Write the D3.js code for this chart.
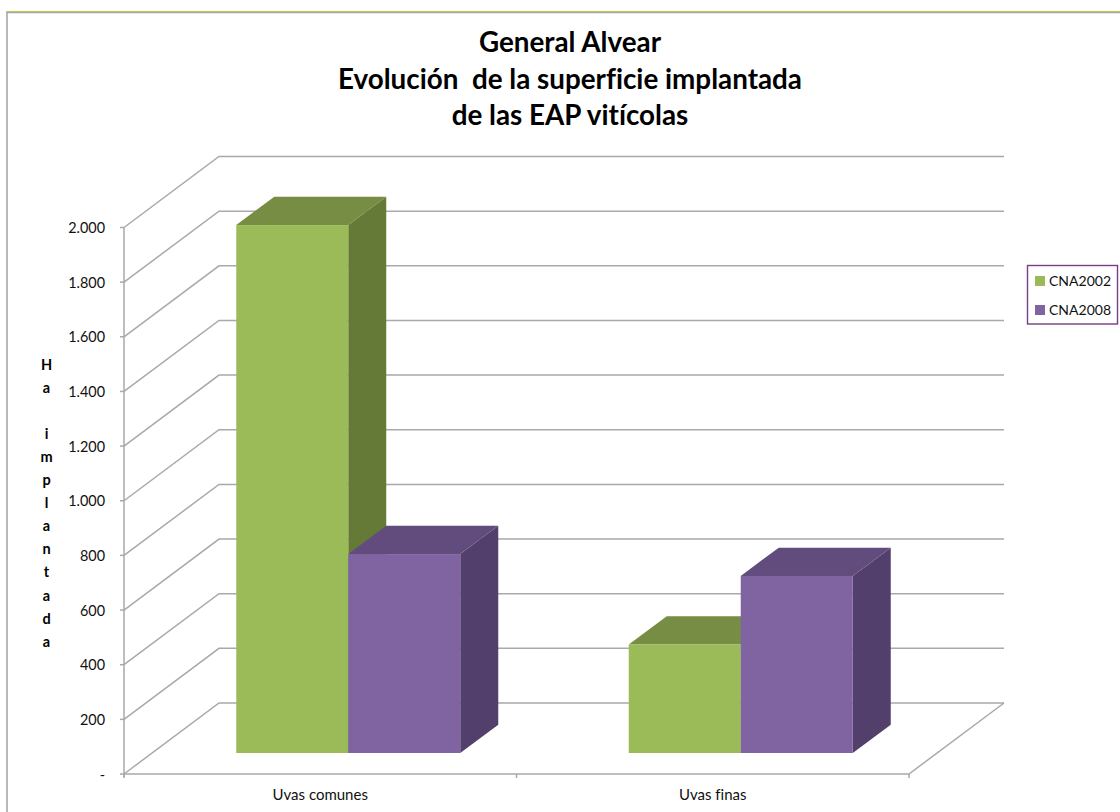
<!DOCTYPE html>
<html><head><meta charset="utf-8">
<style>html,body{margin:0;padding:0;background:#fff}svg{display:block}text{font-family:Lato,"Open Sans",sans-serif;font-variant-ligatures:none}</style>
<script src="https://cdn.jsdelivr.net/npm/d3@7"></script></head><body>
<script>
const titleLines = ["General Alvear","Evolución  de la superficie implantada","de las EAP vitícolas"];
const categories = ["Uvas comunes","Uvas finas"];
const seriesNames = ["CNA2002","CNA2008"];
const cna2002 = [1932,397];
const cna2008 = [728,648];
const yTicks = [0,200,400,600,800,1000,1200,1400,1600,1800,2000];
const yTitle = ["H","a","","i","m","p","l","a","n","t","a","d","a"];
const colors = {CNA2002:["#9bbb59","#778d43","#657a37"],CNA2008:["#8064a2","#624c7d","#533f6c"]};

const W=1120,H=812,depthX=95,depthY=71,barDX=38,barDY=28.3,baseDX=28,baseDY=21;
const svg=d3.select("body").append("svg").attr("width",W).attr("height",H);
const x=d3.scaleBand().domain(categories).range([124,909]);
const y=d3.scaleLinear().domain([0,2000]).range([774,227.5]);
const inner=d3.scaleBand().domain(seriesNames).range([x.bandwidth()/2-112,x.bandwidth()/2+112]);
const grid="#a9a9a9";
const tf=d3.format(",");

svg.append("path").attr("d","M7,812V12.5H1120").attr("fill","none").attr("stroke","#a8a8a8").attr("stroke-width",1.6);
svg.append("line").attr("x1",6).attr("x2",1120).attr("y1",11.5).attr("y2",11.5).attr("stroke","#c4c44e").attr("stroke-width",1);

svg.selectAll("text.title").data(titleLines).join("text").attr("class","title")
 .attr("x",570).attr("y",(d,i)=>[52,89,125][i]).attr("text-anchor","middle")
 .attr("font-size",27.8).attr("font-weight",700).attr("fill","#000").style("white-space","pre").text(d=>d);

const g=svg.append("g").attr("fill","none").attr("stroke",grid).attr("stroke-width",1.5);
yTicks.forEach(t=>{
  const p=y(t);
  g.append("path").attr("d",`M${x.range()[0]},${p}L${x.range()[0]+depthX},${p-depthY}L${x.range()[1]+depthX},${p-depthY}`);
  g.append("line").attr("x1",x.range()[0]-4).attr("x2",x.range()[0]).attr("y1",p).attr("y2",p);
});
g.append("line").attr("x1",124).attr("x2",124).attr("y1",y(2000)).attr("y2",y(0)+3);
g.append("path").attr("d",`M${x.range()[0]},${y(0)}L${x.range()[1]},${y(0)}L${x.range()[1]+depthX},${y(0)-depthY}`);
[...categories.map(c=>x(c)),x.range()[1]].forEach(v=>g.append("line").attr("x1",v).attr("x2",v).attr("y1",y(0)).attr("y2",y(0)+4));

svg.selectAll("text.yt").data(yTicks).join("text").attr("class","yt")
 .attr("x",105).attr("y",d=>y(d)+5.5).attr("text-anchor","end").attr("font-size",14.4).attr("fill","#111")
 .text(d=>d===0?"-":tf(d).replace(/,/g,"."));

svg.selectAll("text.cat").data(categories).join("text").attr("class","cat")
 .attr("x",d=>x(d)+x.bandwidth()/2).attr("y",800).attr("text-anchor","middle").attr("font-size",15).attr("fill","#111").text(d=>d);

svg.selectAll("text.yl").data(yTitle).join("text").attr("class","yl")
 .attr("x",46.5).attr("y",(d,i)=>370+i*23.05).attr("text-anchor","middle").attr("font-size",14.5).attr("font-weight",700).attr("fill","#000").text(d=>d);

const bars=[];
seriesNames.forEach((s,si)=>categories.forEach((c,ci)=>bars.push({s,c,v:(si?cna2008:cna2002)[ci]})));
const bg=svg.append("g");
bars.forEach(b=>{
  const x0=x(b.c)+inner(b.s)+baseDX, w=inner.bandwidth(), y1=y(0)-baseDY, y0=y(b.v)-baseDY, col=colors[b.s];
  bg.append("path").attr("fill",col[2]).attr("d",`M${x0+w},${y0}L${x0+w+barDX},${y0-barDY}L${x0+w+barDX},${y1-barDY}L${x0+w},${y1}Z`);
  bg.append("path").attr("fill",col[1]).attr("d",`M${x0},${y0}L${x0+barDX},${y0-barDY}L${x0+w+barDX},${y0-barDY}L${x0+w},${y0}Z`);
  bg.append("rect").attr("x",x0).attr("y",y0).attr("width",w).attr("height",y1-y0).attr("fill",col[0]);
});

const lg=svg.append("g");
lg.append("rect").attr("x",1027.5).attr("y",265.5).attr("width",90).attr("height",58.5).attr("fill","#fff").attr("stroke","#7a3b87").attr("stroke-width",1.4);
seriesNames.forEach((s,i)=>{
  lg.append("rect").attr("x",1035).attr("y",276+i*29).attr("width",10).attr("height",10).attr("fill",colors[s][0]);
  lg.append("text").attr("x",1049).attr("y",285.5+i*29).attr("font-size",14).attr("fill","#111").text(s);
});
</script></body></html>
